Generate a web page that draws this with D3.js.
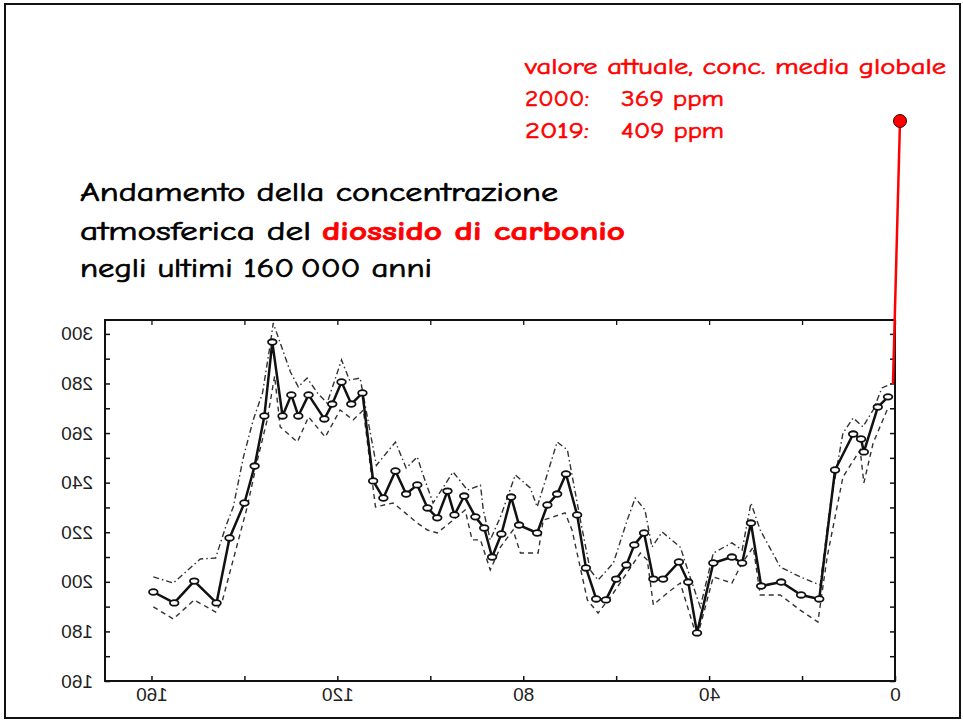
<!DOCTYPE html>
<html>
<head>
<meta charset="utf-8">
<script src="https://cdn.jsdelivr.net/npm/d3@7"></script>
<style>
  html, body { margin: 0; padding: 0; background: #fff; }
  svg { display: block; }
</style>
</head>
<body>
<svg id="chart" width="963" height="722"></svg>
<script>
// CO2 concentration (ppm) against age (thousands of years before present)
const ageKyr = [159.6,155.1,150.8,146.0,143.2,140.0,137.8,135.7,134.0,131.8,129.9,128.4,126.2,122.8,121.1,119.1,117.0,114.6,
  112.3,110.1,107.5,105.2,102.8,100.6,98.5,96.3,94.8,92.7,90.3,88.4,86.7,84.7,82.6,80.9,77.0,74.8,72.7,70.8,68.4,66.5,
  64.3,62.2,60.0,57.8,56.1,54.0,52.0,49.9,46.5,44.5,42.6,39.1,35.1,32.9,31.0,28.8,24.5,20.2,16.3,12.9,9.0,7.3,6.7,3.7,1.5];
const co2Ppm = [195.9,191.5,200.3,191.5,217.7,231.8,246.7,266.9,296.7,266.9,275.4,266.9,275.4,265.7,271.7,280.6,271.7,276.2,
  240.7,233.8,244.7,235.4,239.1,229.8,225.8,236.6,227.0,234.6,226.2,221.7,210.0,219.3,234.2,222.9,219.7,231.0,235.4,243.5,227.0,205.6,
  193.1,192.7,201.1,206.8,214.9,219.7,201.1,201.1,208.0,199.9,179.4,207.6,210.0,207.6,223.7,198.3,199.9,194.7,193.1,245.1,259.6,257.6,252.4,270.5,274.6];

// upper uncertainty envelope
const upperAge = [159.6,155.3,149.5,146.2,143.9,142.4,140.2,138.1,136.1,134.4,133.8,130.1,128.4,126.5,124.3,122.2,119.1,117.4,115.1,
  113.1,111.6,107.5,105.2,102.8,101.7,99.4,95.1,92.0,89.2,88.6,87.1,84.9,81.7,78.5,77.0,72.7,70.5,67.7,65.6,63.9,60.6,57.6,55.9,
  53.8,52.3,50.1,46.2,44.1,41.9,39.1,35.1,32.9,31.0,29.0,24.7,20.4,16.1,14.0,11.2,9.0,6.9,4.7,2.8,0.4];
const upperPpm = [202.0,199.5,209.2,209.6,222.9,230.2,250.4,265.3,276.2,296.3,304.4,284.6,278.6,282.2,276.2,272.1,289.5,281.4,282.2,
  262.0,247.0,256.4,245.9,250.4,243.9,231.8,244.3,237.0,239.0,229.0,216.9,226.2,243.1,237.9,230.2,256.4,253.2,224.9,204.8,200.7,207.6,225.0,233.8,
  229.0,214.0,220.1,214.0,202.0,189.8,211.6,215.7,212.8,231.8,220.9,206.0,202.0,198.7,230.2,260.0,266.1,262.5,269.3,278.2,280.2];

// lower uncertainty envelope
const lowerAge = [159.6,155.3,150.8,146.2,144.7,139.4,137.2,135.1,133.5,132.3,128.6,126.2,122.6,119.4,116.6,114.4,111.8,108.0,105.4,
  102.8,100.6,98.5,95.1,92.5,91.0,89.2,87.1,84.9,82.2,80.6,76.8,75.7,71.0,69.5,66.2,63.9,60.6,54.8,53.3,52.0,49.0,46.2,42.6,
  39.1,35.1,32.9,30.5,29.0,24.7,20.4,16.6,14.6,11.2,7.5,6.7,4.7,1.7];
const lowerPpm = [189.9,185.0,192.7,187.8,192.7,230.2,249.1,265.3,283.0,262.5,256.4,266.5,258.4,269.3,265.3,269.3,230.2,231.8,227.8,
  223.7,220.9,219.7,224.9,229.0,216.9,216.9,204.8,214.0,220.9,211.6,211.6,224.9,227.8,220.9,192.7,187.4,195.5,211.6,208.8,190.7,195.5,199.5,177.3,
  202.0,199.5,207.6,214.0,194.7,194.7,188.6,183.8,210.0,242.3,253.2,239.9,256.0,269.3];

const xTicks = [160,140,120,100,80,60,40,20,0];
const xLabels = [160,120,80,40,0];
const yTicks = [160,170,180,190,200,210,220,230,240,250,260,270,280,290,300];
const yLabels = [160,180,200,220,240,260,280,300];

const svg = d3.select("#chart");

// slide frame
svg.append("rect")
  .attr("x", 5).attr("y", 4).attr("width", 955).attr("height", 714)
  .attr("fill", "none").attr("stroke", "#111").attr("stroke-width", 2);

// title
const titleFont = "'Comic Sans MS','Comic Neue','DejaVu Sans',sans-serif";
const title = svg.append("g").attr("font-family", titleFont).attr("font-size", 26)
  .attr("fill", "#000").attr("stroke", "#000").attr("stroke-width", 0.7);
title.append("text").attr("x", 80).attr("y", 201)
  .attr("textLength", 478).attr("lengthAdjust", "spacingAndGlyphs")
  .text("Andamento della concentrazione");
title.append("text").attr("x", 80).attr("y", 239.5)
  .attr("textLength", 231).attr("lengthAdjust", "spacingAndGlyphs")
  .text("atmosferica del");
title.append("text").attr("x", 322).attr("y", 239.5)
  .attr("textLength", 303).attr("lengthAdjust", "spacingAndGlyphs")
  .attr("fill", "#ff0000").attr("stroke", "#ff0000").attr("font-weight", "bold")
  .text("diossido di carbonio");
title.append("text").attr("x", 80).attr("y", 277)
  .attr("textLength", 352).attr("lengthAdjust", "spacingAndGlyphs")
  .text("negli ultimi 160\u2009000 anni");

// annotation for present-day value
const note = svg.append("g").attr("font-family", titleFont).attr("font-size", 22)
  .attr("fill", "#ff0000").attr("stroke", "#ff0000").attr("stroke-width", 0.6);
note.append("text").attr("x", 525).attr("y", 74)
  .attr("textLength", 421).attr("lengthAdjust", "spacingAndGlyphs")
  .text("valore attuale, conc. media globale");
[["2000:", "369 ppm", 106], ["2019:", "409 ppm", 137.5]].forEach(([yr, val, y]) => {
  note.append("text").attr("x", 525).attr("y", y)
    .attr("textLength", 64).attr("lengthAdjust", "spacingAndGlyphs").text(yr);
  note.append("text").attr("x", 621).attr("y", y)
    .attr("textLength", 103).attr("lengthAdjust", "spacingAndGlyphs").text(val);
});

// plot area
const x = d3.scaleLinear().domain([170, 0]).range([105, 895]);
const y = d3.scaleLinear().domain([160, 305.6]).range([681, 320]);

const frame = svg.append("g");
frame.append("rect")
  .attr("x", x(170)).attr("y", y(305.6))
  .attr("width", x(0) - x(170)).attr("height", y(160) - y(305.6))
  .attr("fill", "none").attr("stroke", "#111").attr("stroke-width", 2);

const tickFont = "'Liberation Sans','DejaVu Sans',Arial,sans-serif";

// bottom axis (labels printed mirrored)
const gx = svg.append("g").attr("transform", `translate(0,${y(160)})`)
  .call(d3.axisBottom(x).tickValues(xTicks).tickSizeInner(-5).tickSizeOuter(0)
    .tickFormat(d => xLabels.includes(d) ? d : ""));
gx.select(".domain").remove();
gx.selectAll("line").attr("stroke", "#111").attr("stroke-width", 1.5);
gx.selectAll("text").attr("font-family", tickFont).attr("font-size", 19).attr("fill", "#222")
  .attr("y", 7).attr("transform", "scale(-1,1)");

// top axis ticks
const gt = svg.append("g").attr("transform", `translate(0,${y(305.6)})`)
  .call(d3.axisTop(x).tickValues(xTicks).tickSizeInner(-5).tickSizeOuter(0).tickFormat(""));
gt.select(".domain").remove();
gt.selectAll("line").attr("stroke", "#111").attr("stroke-width", 1.3);

// left axis (labels printed mirrored)
const gy = svg.append("g").attr("transform", `translate(${x(170)},0)`)
  .call(d3.axisLeft(y).tickValues(yTicks).tickSizeInner(-5).tickSizeOuter(0)
    .tickFormat(d => yLabels.includes(d) ? d : ""));
gy.select(".domain").remove();
gy.selectAll("line").attr("stroke", "#111").attr("stroke-width", 1.5);
gy.selectAll("text").attr("font-family", tickFont).attr("font-size", 19).attr("fill", "#222")
  .attr("x", 12).attr("text-anchor", "start").attr("transform", "scale(-1,1)");

// right axis ticks
const gr = svg.append("g").attr("transform", `translate(${x(0)},0)`)
  .call(d3.axisRight(y).tickValues(yTicks).tickSizeInner(-5).tickSizeOuter(0).tickFormat(""));
gr.select(".domain").remove();
gr.selectAll("line").attr("stroke", "#111").attr("stroke-width", 1.5);

// envelopes
const line = d3.line().x(d => x(d[0])).y(d => y(d[1]));
svg.append("path")
  .datum(upperAge.map((a, i) => [a, upperPpm[i]]))
  .attr("d", line).attr("fill", "none").attr("stroke", "#333")
  .attr("stroke-width", 1.4).attr("stroke-dasharray", "6,3,1.5,3");
svg.append("path")
  .datum(lowerAge.map((a, i) => [a, lowerPpm[i]]))
  .attr("d", line).attr("fill", "none").attr("stroke", "#333")
  .attr("stroke-width", 1.4).attr("stroke-dasharray", "5,4");

// main record
const pts = ageKyr.map((a, i) => [a, co2Ppm[i]]);
svg.append("path").datum(pts).attr("d", line)
  .attr("fill", "none").attr("stroke", "#111").attr("stroke-width", 2.5).attr("stroke-linejoin", "round");
svg.append("g").selectAll("ellipse").data(pts).join("ellipse")
  .attr("cx", d => x(d[0])).attr("cy", d => y(d[1]))
  .attr("rx", 4.3).attr("ry", 2.8)
  .attr("fill", "#fff").attr("stroke", "#111").attr("stroke-width", 1.8);

// pointer from the end of the record to the present-day note
svg.append("line")
  .attr("x1", 900).attr("y1", 121)
  .attr("x2", x(0) - 2).attr("y2", y(280))
  .attr("stroke", "#ff0000").attr("stroke-width", 2.5);
svg.append("circle").attr("cx", 900).attr("cy", 121).attr("r", 6.5)
  .attr("fill", "#ff0000").attr("stroke", "#400").attr("stroke-width", 1);
</script>
</body>
</html>
